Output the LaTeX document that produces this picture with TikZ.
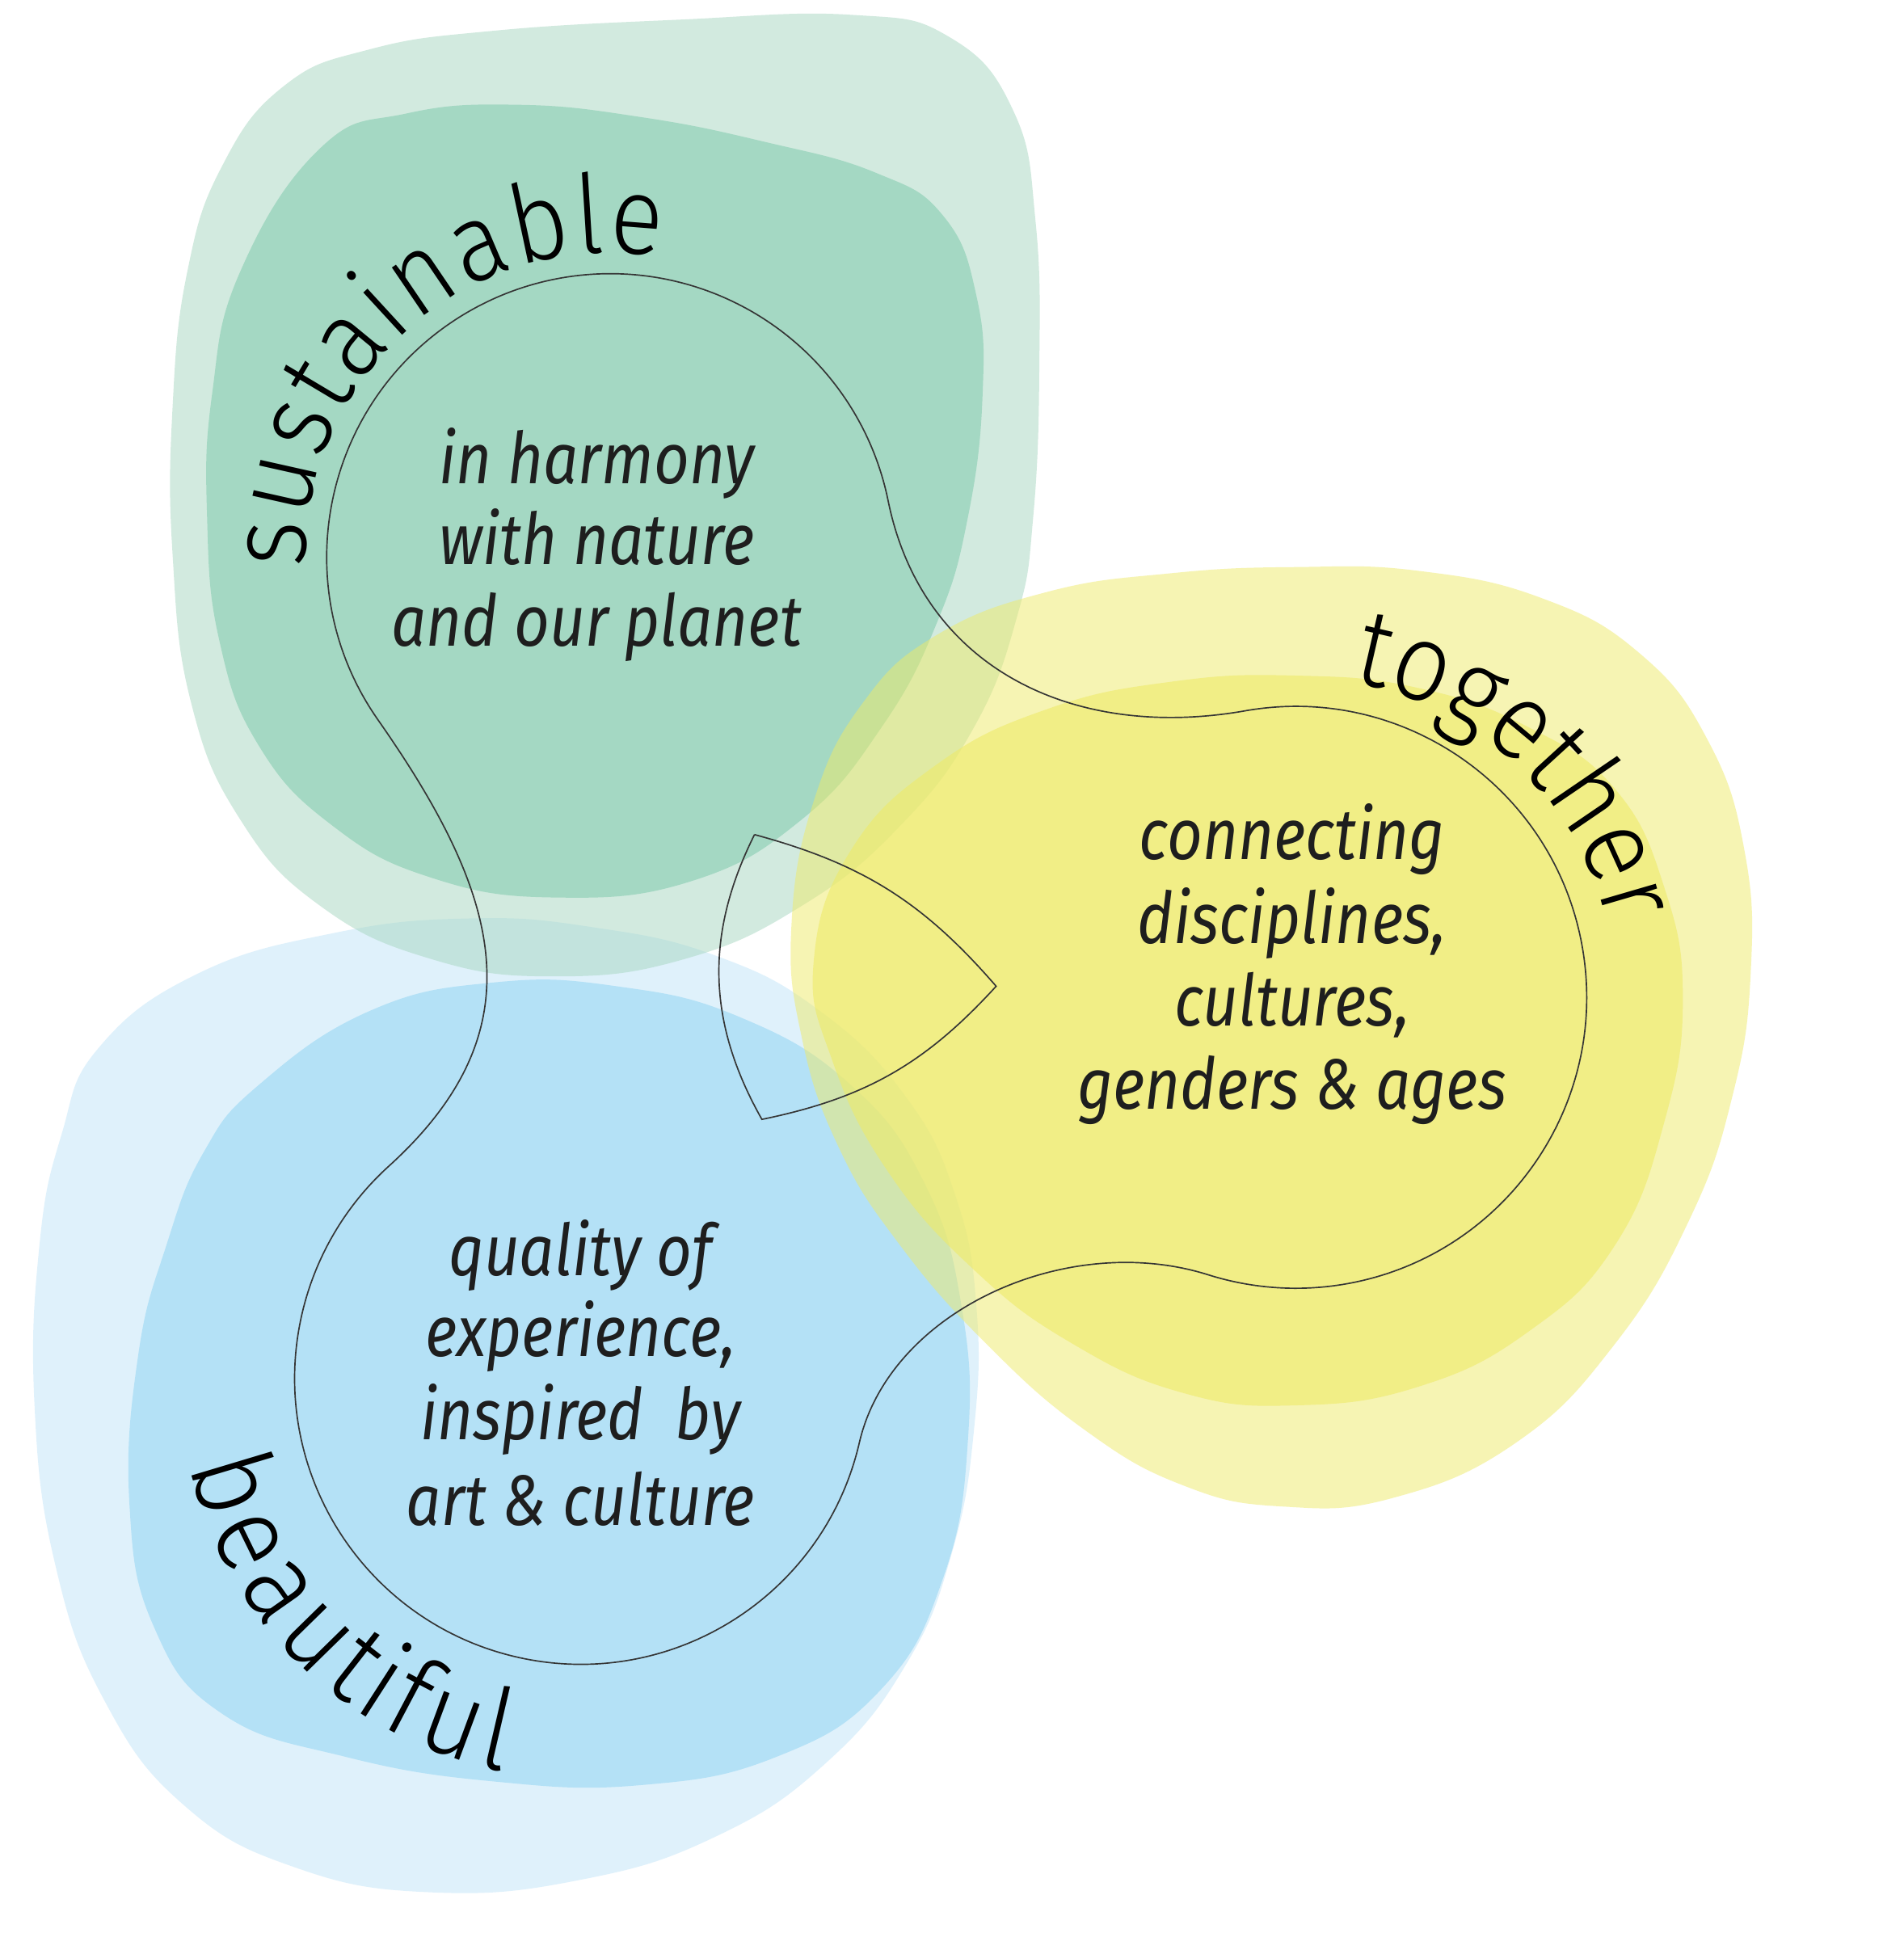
\documentclass[tikz,border=0pt]{standalone}
\usepackage{fontspec}
\setmainfont{Fira Sans}
\newfontfamily\bodyfont{Fira Sans}[FakeStretch=0.86]
\newfontfamily\curvefont{Fira Sans Light}[FakeStretch=0.9]
\usetikzlibrary{decorations.text,calc}
\definecolor{gOut}{RGB}{167,215,193}
\definecolor{gIn}{RGB}{134,205,177}
\definecolor{yBase}{RGB}{238,234,105}
\definecolor{bOut}{RGB}{193,229,249}
\definecolor{bIn}{RGB}{152,215,244}
\definecolor{ink}{RGB}{30,30,30}
\newcommand\cwfont{\curvefont\fontsize{89}{91}\selectfont}
\newcommand\cwfontb{\curvefont\fontsize{92}{94}\selectfont}
\begin{document}
\begin{tikzpicture}[x=1pt,y=1pt,
  outerblob/.style={fill=#1, fill opacity=0.5, draw=none},
  innerblob/.style={fill=#1, fill opacity=0.6, draw=none},
  outline/.style={draw=ink!90, line width=1.1pt, line join=miter},
  body/.style={font=\bodyfont\itshape\fontsize{58}{67}\selectfont, text=ink, inner sep=0pt, anchor=base},
  curvetext/.style 2 args={decorate, decoration={text effects along path, text={#1},
    text effects/.cd, text along path, fit text to path, characters={font=#2}}}
]
\fill[white] (0,0) rectangle (1544,-1568);
\useasboundingbox (0,0) rectangle (1544,-1568);

% blue blob
\fill[outerblob=bOut] plot[smooth cycle, tension=0.75] coordinates {(80,-850) (160,-790) (270,-757) (380,-745) (480,-752) (580,-775) (665,-820) (735,-890) (775,-970) (792,-1060) (790,-1160) (772,-1260) (735,-1350) (670,-1430) (580,-1490) (470,-1525) (350,-1535) (240,-1515) (150,-1465) (85,-1380) (45,-1270) (28,-1140) (32,-1010) (50,-920)};
\fill[innerblob=bIn] plot[smooth cycle, tension=0.75] coordinates {(135,-1010) (165,-935) (210,-880) (300,-820) (400,-797) (500,-800) (600,-825) (690,-880) (750,-960) (780,-1060) (785,-1170) (765,-1280) (715,-1370) (630,-1425) (520,-1448) (400,-1445) (280,-1425) (180,-1390) (125,-1320) (105,-1220) (112,-1100)};

% green blob
\fill[outerblob=gOut] plot[smooth cycle, tension=0.75] coordinates {(230,-70) (300,-40) (400,-25) (550,-16) (690,-12) (770,-30) (822,-90) (840,-180) (843,-300) (838,-420) (825,-500) (790,-590) (730,-670) (650,-735) (555,-778) (450,-792) (350,-778) (260,-735) (195,-665) (155,-570) (140,-450) (140,-330) (152,-220) (180,-135)};
\fill[innerblob=gIn] plot[smooth cycle, tension=0.75] coordinates {(260,-120) (330,-92) (420,-85) (520,-95) (620,-115) (710,-140) (765,-175) (792,-240) (797,-320) (785,-420) (760,-505) (715,-590) (650,-665) (560,-715) (450,-728) (350,-712) (270,-670) (210,-605) (178,-520) (168,-420) (172,-320) (195,-220)};

% yellow blob
\fill[outerblob=yBase] plot[smooth cycle, tension=0.75] coordinates {(660,-650) (700,-570) (760,-515) (850,-480) (950,-465) (1050,-460) (1150,-463) (1250,-485) (1330,-530) (1385,-600) (1415,-690) (1420,-790) (1405,-890) (1370,-990) (1310,-1090) (1230,-1170) (1130,-1215) (1040,-1222) (960,-1205) (880,-1160) (800,-1090) (730,-1010) (680,-930) (650,-840) (642,-750)};
\fill[innerblob=yBase] plot[smooth cycle, tension=0.75] coordinates {(690,-690) (760,-620) (850,-575) (950,-553) (1050,-548) (1150,-558) (1240,-590) (1310,-640) (1350,-720) (1365,-810) (1350,-910) (1310,-1010) (1240,-1080) (1150,-1125) (1050,-1140) (960,-1130) (870,-1090) (790,-1030) (720,-950) (675,-860) (660,-780)};

% circle centres and junctions
\coordinate (G) at (495,-452);
\coordinate (Y) at (1051,-809);
\coordinate (B) at (471,-1118);
\coordinate (A1) at ($(G)+(11.5:230)$);
\coordinate (A2) at ($(Y)+(100:236)$);
\coordinate (A3) at ($(Y)+(-107.5:236)$);
\coordinate (A4) at ($(B)+(-13:232)$);
\coordinate (A5) at ($(B)+(132.2:232)$);
\coordinate (A6) at ($(G)+(215:230)$);

\draw[outline] (A1) .. controls ($(A1)+(-78.5:140)$) and ($(A2)+(190:140)$) .. (A2)
  arc[start angle=100, end angle=-107.5, radius=236]
  .. controls ($(A3)+(162.5:120)$) and ($(A4)+(77:110)$) .. (A4)
  arc[start angle=-13, end angle=-227.8, radius=232]
  .. controls ($(A5)+(42.2:165)$) and ($(A6)+(-55:175)$) .. (A6)
  arc[start angle=215, end angle=11.5, radius=230] -- cycle;

% inner curved triangle
\coordinate (T1) at (612,-677);
\coordinate (T2) at (808,-800);
\coordinate (T3) at (618,-908);
\draw[outline] (T1) to[bend left=17] (T2) to[bend left=18] (T3) to[bend left=28] (T1);

% curved titles
\path[curvetext={sustainable}{\cwfont}] ($(G)+(182:247)$) arc[start angle=182, end angle=80.5, radius=247];
\path[curvetext={together}{\cwfont}] ($(Y)+(80:260)$) arc[start angle=80, end angle=13, radius=260];
\path[curvetext={beautiful}{\cwfontb}] ($(B)+(192.5:325)$) arc[start angle=192.5, end angle=259, radius=325];

% texts
\node[body] (g1) at (484,-392) {in harmony};
\node[body] (g2) at (484,-458) {with nature};
\node[body] (g3) at (484,-524) {and our planet};

\node[body] (y1) at (1048,-697) {connecting};
\node[body] (y2) at (1048,-765) {disciplines,};
\node[body] (y3) at (1048,-832) {cultures,};
\node[body] (y4) at (1048,-900) {genders \& ages};

\node[body] (b1) at (471,-1035) {quality of};
\node[body] (b2) at (471,-1100) {experience,};
\node[body] (b3) at (471,-1168) {inspired\ \ by};
\node[body] (b4) at (471,-1237) {art \& culture};
\end{tikzpicture}
\end{document}
